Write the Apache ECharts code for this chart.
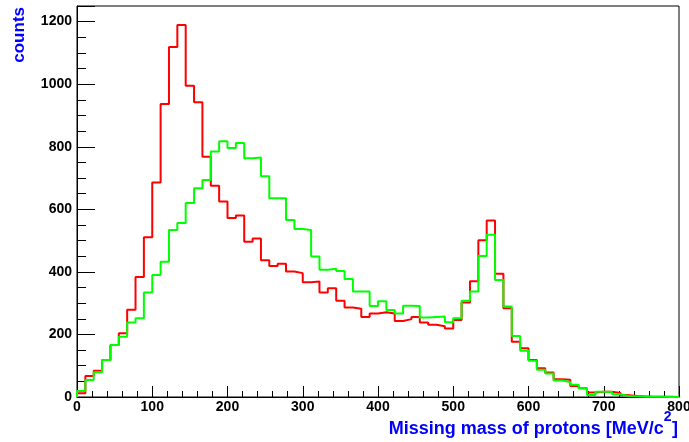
<!DOCTYPE html>
<html>
<head>
<meta charset="utf-8">
<script src="https://cdn.jsdelivr.net/npm/echarts@6/dist/echarts.min.js"></script>
<style>
  html, body { margin: 0; padding: 0; background: #ffffff; }
  #chart { width: 689px; height: 442px; }
</style>
</head>
<body>
<div id="chart"></div>
<script>
// Histogram range and binning (72 bins over 0-800 MeV/c^2)
const X_MIN = 0;
const X_MAX = 800;
const Y_MAX = 1250;

// Bin contents, red histogram
const redCounts = [
  12, 67, 84, 118, 166, 204, 279, 384, 511, 686,
  937, 1119, 1189, 995, 942, 768, 675, 625, 572, 580,
  496, 507, 437, 419, 426, 401, 396, 367, 369, 334,
  348, 308, 286, 282, 256, 267, 271, 267, 243, 249,
  256, 238, 231, 226, 219, 246, 302, 370, 501, 564,
  394, 284, 177, 156, 118, 92, 78, 57, 55, 35,
  28, 14, 17, 17, 13, 6, 3, 2, 1, 1,
  1, 0
];

// Bin contents, green histogram
const greenCounts = [
  19, 54, 79, 118, 166, 193, 238, 252, 334, 390,
  432, 534, 556, 620, 667, 694, 785, 818, 796, 812,
  763, 766, 706, 635, 635, 566, 537, 534, 449, 407,
  410, 403, 377, 337, 337, 291, 306, 278, 267, 292,
  291, 254, 256, 257, 239, 252, 308, 337, 451, 519,
  374, 289, 195, 148, 116, 87, 75, 53, 48, 39,
  28, 6, 17, 16, 9, 3, 2, 1, 1, 1,
  0, 0
];

// Axis tick values
const xTickLabels = [0, 100, 200, 300, 400, 500, 600, 700, 800];
const yTickLabels = [0, 200, 400, 600, 800, 1000, 1200];

// Axis titles
const xTitleMain = 'Missing mass of protons [MeV/c';
const xTitleSup = '2';
const xTitleEnd = ']';
const yTitle = 'counts';

// Turn bin contents into an outline: one point per lower bin edge,
// drawn with step 'end' so each bin is a flat segment.
function outline(counts) {
  const w = (X_MAX - X_MIN) / counts.length;
  const pts = [[X_MIN, 0]];
  counts.forEach((c, i) => pts.push([X_MIN + i * w, c]));
  pts.push([X_MAX, counts[counts.length - 1]]);
  pts.push([X_MAX, 0]);
  return pts;
}

const FONT = '"Liberation Sans", Arial, Helvetica, sans-serif';

// text widths for laying out the x title with its superscript
const measureCtx = document.createElement('canvas').getContext('2d');
function textWidth(text, size) {
  measureCtx.font = 'bold ' + size + 'px ' + FONT;
  return measureCtx.measureText(text).width;
}
const TITLE_RIGHT = 678;
const endX = TITLE_RIGHT - textWidth(xTitleEnd, 18);
const supX = endX - textWidth(xTitleSup, 14) - 0.5;

function titleText(text, x, top, size, align) {
  return {
    type: 'text',
    x: x, y: top,
    style: {
      text: text, fill: '#0000ff',
      fontFamily: FONT, fontWeight: 'bold', fontSize: size,
      align: align,
      verticalAlign: 'top'
    }
  };
}

const chart = echarts.init(document.getElementById('chart'), null, { renderer: 'canvas' });

chart.setOption({
  animation: false,
  backgroundColor: '#ffffff',
  grid: {
    left: 77, right: 10, top: 6, bottom: 45,
    outerBoundsMode: 'none',
    containLabel: false,
    show: true, borderColor: '#000000', borderWidth: 1,
    backgroundColor: 'transparent'
  },
  xAxis: [{
    type: 'value',
    min: X_MIN, max: X_MAX, interval: 100,
    axisLine: { show: true, onZero: false, lineStyle: { color: '#000', width: 1 } },
    axisTick: { show: true, inside: true, length: 11, lineStyle: { color: '#000' } },
    minorTick: { show: true, splitNumber: 5, length: 6, lineStyle: { color: '#000' } },
    splitLine: { show: false },
    axisLabel: {
      margin: 3,
      color: '#000', fontFamily: FONT, fontWeight: 'bold', fontSize: 14,
      formatter: v => (xTickLabels.indexOf(v) >= 0 ? String(v) : '')
    }
  }],
  yAxis: [{
    type: 'value',
    min: 0, max: Y_MAX, interval: 50,
    axisLine: { show: true, onZero: false, lineStyle: { color: '#000', width: 1 } },
    axisTick: { show: true, inside: true, length: 9, lineStyle: { color: '#000' } },
    splitLine: { show: false },
    axisLabel: {
      margin: 5,
      color: '#000', fontFamily: FONT, fontWeight: 'bold', fontSize: 14,
      showMaxLabel: false,
      formatter: v => (yTickLabels.indexOf(v) >= 0 ? String(v) : '')
    }
  }, {
    // long ticks every 200 counts
    type: 'value',
    position: 'left',
    min: 0, max: Y_MAX, interval: 200,
    axisLine: { show: false },
    axisTick: { show: true, inside: true, length: 18, lineStyle: { color: '#000' } },
    axisLabel: { show: false },
    splitLine: { show: false }
  }],
  series: [{
    name: 'red',
    type: 'line',
    step: 'end',
    xAxisIndex: 0, yAxisIndex: 0,
    data: outline(redCounts),
    showSymbol: false,
    lineStyle: { color: '#ff0000', width: 2 },
    z: 2
  }, {
    name: 'green',
    type: 'line',
    step: 'end',
    xAxisIndex: 0, yAxisIndex: 0,
    data: outline(greenCounts),
    showSymbol: false,
    lineStyle: { color: '#00ff00', width: 2 },
    z: 3
  }],
  graphic: [{
    type: 'text',
    x: 19, y: 7,
    rotation: Math.PI / 2,
    style: {
      text: yTitle,
      fill: '#0000ff',
      fontFamily: FONT, fontWeight: 'bold', fontSize: 17,
      align: 'right',
      verticalAlign: 'middle'
    }
  },
  titleText(xTitleMain, supX, 420.5, 18, 'right'),
  titleText(xTitleSup, supX, 410.5, 14, 'left'),
  titleText(xTitleEnd, endX, 420.5, 18, 'left')
  ]
});
</script>
</body>
</html>
